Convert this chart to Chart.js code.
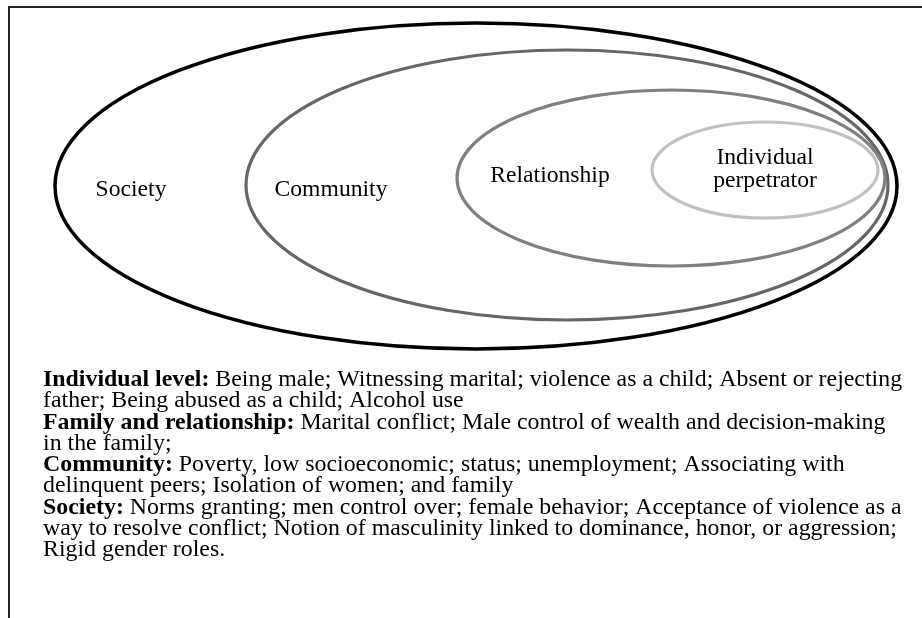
<!DOCTYPE html>
<html>
<head>
<meta charset="utf-8">
<script src="https://cdn.jsdelivr.net/npm/chart.js@4.4.1/dist/chart.umd.min.js"></script>
<style>
  html, body { margin: 0; padding: 0; background: #fff; }
  #wrap { width: 922px; height: 618px; }
</style>
</head>
<body>
<div id="wrap"><canvas id="ecoChart" width="922" height="618"></canvas></div>
<script>
// Niveis do modelo ecologico (de fora para dentro)
const levels = ['Society', 'Community', 'Relationship', 'Individual perpetrator'];
const labelLines = [['Society'], ['Community'], ['Relationship'], ['Individual', 'perpetrator']];
const centerX = [476, 567, 671, 765];
const centerY = [186, 185, 178, 170];
const radiusX = [421, 321, 214, 113];
const radiusY = [163, 135, 88, 48];
const labelX = [131, 331, 550, 765];
const labelY = [190, 190, 176, 170];

// Fatores de risco por nivel
const factorHeads = ['Individual level:', 'Family and relationship:', 'Community:', 'Society:'];
const factorLines = [
  ['Being male; Witnessing marital; violence as a child; Absent or rejecting', 'father; Being abused as a child; Alcohol use'],
  ['Marital conflict; Male control of wealth and decision-making', 'in the family;'],
  ['Poverty, low socioeconomic; status; unemployment; Associating with', 'delinquent peers; Isolation of women; and family'],
  ['Norms granting; men control over; female behavior; Acceptance of violence as a', 'way to resolve conflict; Notion of masculinity linked to dominance, honor, or aggression;', 'Rigid gender roles.']
];

const ringColors = ['#000000', '#666666', '#808080', '#c0c0c0'];
const ringWidths = [3.5, 3.2, 3.2, 3.2];
const serif = '"Liberation Serif", "Times New Roman", serif';
const stretch = 1.07;

const diagramPlugin = {
  id: 'diagram',
  afterDraw(chart) {
    const ctx = chart.ctx;
    const sx = chart.scales.x, sy = chart.scales.y;
    const px = v => sx.getPixelForValue(v);
    const py = v => sy.getPixelForValue(v);

    ctx.save();
    // moldura (topo e esquerda)
    ctx.strokeStyle = '#222';
    ctx.lineWidth = 2;
    ctx.beginPath();
    ctx.moveTo(px(8), py(7));
    ctx.lineTo(px(922), py(7));
    ctx.moveTo(px(9), py(7));
    ctx.lineTo(px(9), py(618));
    ctx.stroke();

    // elipses
    levels.forEach((lvl, i) => {
      const cx = px(centerX[i]), cy = py(centerY[i]);
      const rx = Math.abs(px(centerX[i] + radiusX[i]) - cx);
      const ry = Math.abs(py(centerY[i] + radiusY[i]) - cy);
      ctx.beginPath();
      ctx.ellipse(cx, cy, rx, ry, 0, 0, Math.PI * 2);
      ctx.strokeStyle = ringColors[i];
      ctx.lineWidth = ringWidths[i];
      ctx.stroke();
    });

    // rotulos
    ctx.fillStyle = '#000';
    ctx.textAlign = 'center';
    ctx.textBaseline = 'middle';
    ctx.font = '22.1px ' + serif;
    labelLines.forEach((lines, i) => {
      lines.forEach((t, j) => {
        const y = py(labelY[i]) + (j - (lines.length - 1) / 2) * 23;
        ctx.save();
        ctx.translate(px(labelX[i]), y);
        ctx.scale(stretch, 1);
        ctx.fillText(t, 0, 0);
        ctx.restore();
      });
    });

    // texto dos fatores
    ctx.textAlign = 'left';
    ctx.textBaseline = 'alphabetic';
    let row = 0;
    factorHeads.forEach((head, i) => {
      factorLines[i].forEach((line, j) => {
        const y = py(386 + row * 21.25);
        ctx.save();
        ctx.translate(px(43), y);
        ctx.scale(stretch, 1);
        let x = 0;
        if (j === 0) {
          ctx.font = 'bold 22.3px ' + serif;
          ctx.fillText(head, 0, 0);
          x = ctx.measureText(head + ' ').width;
        }
        ctx.font = '22.3px ' + serif;
        ctx.fillText(line, x, 0);
        ctx.restore();
        row++;
      });
    });
    ctx.restore();
  }
};

new Chart(document.getElementById('ecoChart'), {
  type: 'scatter',
  data: {
    datasets: [{
      label: 'Levels',
      data: levels.map((l, i) => ({ x: labelX[i], y: labelY[i] })),
      pointRadius: 0
    }]
  },
  options: {
    responsive: false,
    devicePixelRatio: 1,
    animation: false,
    layout: { padding: 0 },
    plugins: { legend: { display: false }, tooltip: { enabled: false } },
    scales: {
      x: { type: 'linear', min: 0, max: 922, display: false },
      y: { type: 'linear', min: 0, max: 618, reverse: true, display: false }
    }
  },
  plugins: [diagramPlugin]
});
</script>
</body>
</html>
